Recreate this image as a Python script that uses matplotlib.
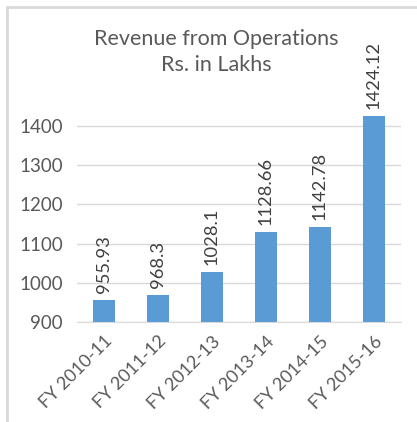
import matplotlib.pyplot as plt
from matplotlib.patches import Rectangle

plt.rcParams['font.family'] = ['Lato', 'DejaVu Sans']

years = ['FY 2010-11', 'FY 2011-12', 'FY 2012-13', 'FY 2013-14', 'FY 2014-15', 'FY 2015-16']
revenue = [955.93, 968.3, 1028.1, 1128.66, 1142.78, 1424.12]
labels = ['955.93', '968.3', '1028.1', '1128.66', '1142.78', '1424.12']
yticks = [900, 1000, 1100, 1200, 1300, 1400]

W, H = 417, 422
fig = plt.figure(figsize=(W / 100, H / 100), dpi=100)

# light frame of the chart box (left and top edges visible)
fig.patches.append(Rectangle((7 / W, -0.1), 1.2, 1 - 7 / H + 0.1, transform=fig.transFigure,
                             fill=False, edgecolor='#d9d9d9', linewidth=2))

ax = fig.add_axes([77 / W, 1 - 322 / H, 324 / W, (322 - 105) / H])
x = range(len(years))
ax.bar(x, revenue, width=0.41, color='#5b9bd5', zorder=3)
for i, v in enumerate(revenue):
    ax.text(i, v + 18, labels[i], rotation=90, ha='center', va='bottom',
            fontsize=13.2, color='#404040')

ax.set_xlim(-0.5, len(years) - 0.5)
ax.set_ylim(900, 1453)
ax.set_yticks(yticks)
ax.set_yticklabels([str(t) for t in yticks], fontsize=13.5, color='#595959')
ax.set_xticks(list(x))
ax.set_xticklabels(years, rotation=45, ha='right', rotation_mode='anchor',
                   fontsize=13, color='#595959')
ax.tick_params(length=0, pad=10)
ax.tick_params(axis='x', pad=8)
ax.grid(axis='y', color='#d9d9d9', linewidth=1, zorder=0)
for s in ['top', 'right', 'left']:
    ax.spines[s].set_visible(False)
ax.spines['bottom'].set_color('#d9d9d9')

fig.text(216 / W, 1 - 52 / H, 'Revenue from Operations\nRs. in Lakhs', ha='center', va='center',
         fontsize=15.5, color='#595959', linespacing=1.4)

fig.savefig('out.png', dpi=100)
